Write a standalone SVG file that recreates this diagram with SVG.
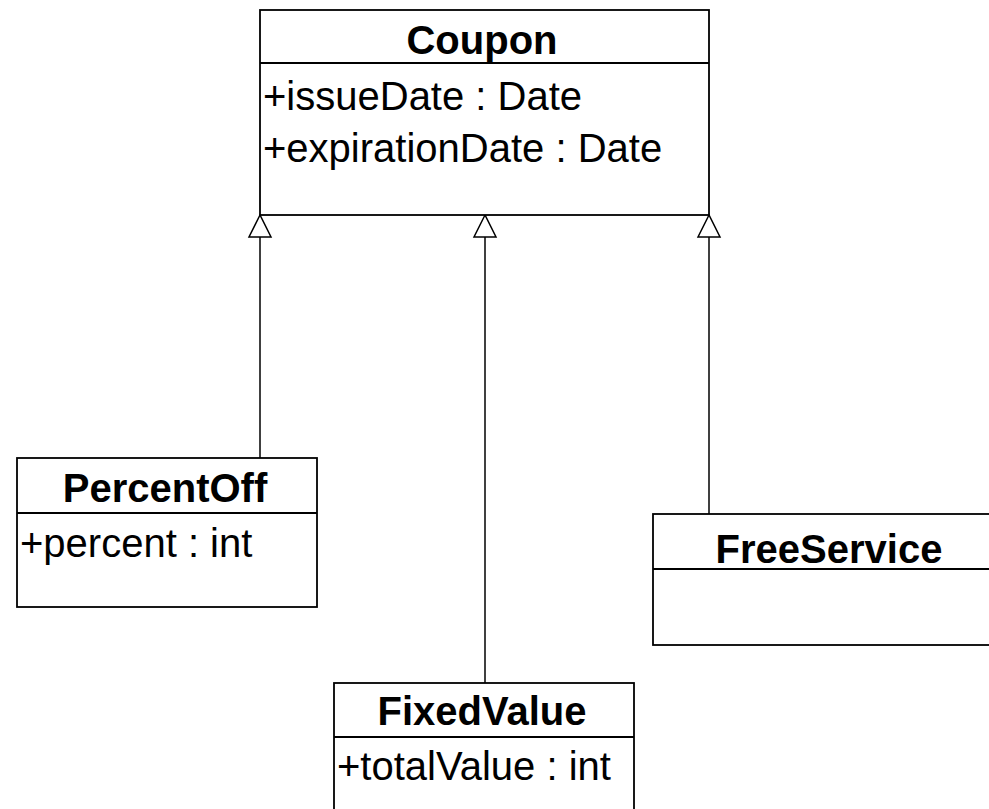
<svg xmlns="http://www.w3.org/2000/svg" width="989" height="809" viewBox="0 0 989 809">
<style>
.box{fill:#fff;stroke:#000;stroke-width:1.8}
.sep{stroke:#000;stroke-width:1.8}
.title{font-family:"Liberation Sans",Arial,sans-serif;font-weight:bold;font-size:40px;text-anchor:middle;fill:#000}
.attr{font-family:"Liberation Sans",Arial,sans-serif;font-size:40px;fill:#000}
.conn{stroke:#000;stroke-width:1.5;fill:none}
.head{fill:#fff;stroke:#000;stroke-width:1.5}
</style>
<rect width="989" height="809" fill="#fff"/>
<g id="connectors">
<line class="conn" x1="260" y1="237" x2="260" y2="458"/>
<polygon class="head" points="260,215 249,237 271,237"/>
<line class="conn" x1="485" y1="237" x2="485" y2="683"/>
<polygon class="head" points="485,215 474,237 496,237"/>
<line class="conn" x1="709" y1="237" x2="709" y2="514"/>
<polygon class="head" points="709,215 698,237 720,237"/>
</g>
<g id="Coupon">
<rect class="box" x="260" y="10" width="449" height="205"/>
<line class="sep" x1="260" y1="63" x2="709" y2="63"/>
<text class="title" x="482" y="54">Coupon</text>
<text class="attr" x="263" y="110">+issueDate : Date</text>
<text class="attr" x="263" y="162">+expirationDate : Date</text>
</g>
<g id="PercentOff">
<rect class="box" x="17" y="458" width="300" height="149"/>
<line class="sep" x1="17" y1="513" x2="317" y2="513"/>
<text class="title" x="165" y="502">PercentOff</text>
<text class="attr" x="20" y="557">+percent : int</text>
</g>
<g id="FreeService">
<rect class="box" x="653" y="514" width="352" height="131"/>
<line class="sep" x1="653" y1="569" x2="1005" y2="569"/>
<text class="title" x="829" y="563">FreeService</text>
</g>
<g id="FixedValue">
<rect class="box" x="334" y="683" width="300" height="150"/>
<line class="sep" x1="334" y1="737" x2="634" y2="737"/>
<text class="title" x="482" y="725">FixedValue</text>
<text class="attr" x="337" y="780">+totalValue : int</text>
</g>
</svg>
